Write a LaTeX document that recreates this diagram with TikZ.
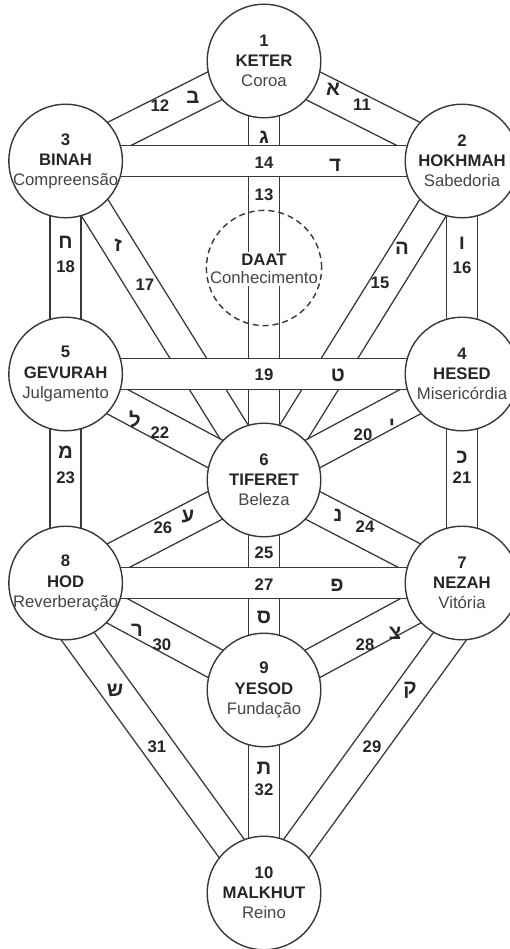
\documentclass[tikz,border=0pt]{standalone}
\usepackage{fontspec}
\setmainfont{Liberation Sans}
\newfontfamily\hebfont[Script=Hebrew]{Liberation Sans}
\usetikzlibrary{backgrounds,calc}
\definecolor{treeink}{HTML}{262626}
\definecolor{treegray}{HTML}{454545}
\definecolor{treeline}{HTML}{383838}

\begin{document}
\begin{tikzpicture}[
  font=\rmfamily,
  sephirah/.style={
    circle,
    draw=treeline,
    fill=white,
    line width=1.0pt,
    minimum size=2.84cm,
    inner sep=0pt
  },
  daatring/.style={
    circle,
    draw=treeline,
    line width=1.0pt,
    dash pattern=on 0.15cm off 0.1cm,
    minimum size=2.88cm,
    inner sep=0pt
  },
  sephtext/.style={
    align=center,
    text=treeink,
    font=\fontsize{11.9}{14.3}\selectfont,
    inner sep=0pt
  },
  channel/.style={
    draw=treeline,
    line width=1.0pt,
    double=white,
    double distance=0.74cm
  },
  pathnum/.style={
    font=\bfseries\fontsize{11.9}{13}\selectfont,
    text=treeink,
    inner sep=0pt
  },
  pathletter/.style={
    font=\hebfont\bfseries\fontsize{14.5}{15}\selectfont,
    text=treeink,
    inner sep=0pt
  }
]
\useasboundingbox (0,0) rectangle (12.725,-23.725);

\node[sephirah,label={[sephtext]center:{\textbf{1}\\\textbf{KETER}\\\color{treegray}Coroa}}] (keter) at (6.60,-1.525) {};
\node[sephirah,label={[sephtext]center:{\textbf{2}\\\textbf{HOKHMAH}\\\color{treegray}Sabedoria}}] (hokhmah) at (11.55,-4.025) {};
\node[sephirah,label={[sephtext]center:{\textbf{3}\\\textbf{BINAH}\\\color{treegray}Compreensão}}] (binah) at (1.64,-4.025) {};
\node[sephirah,label={[sephtext]center:{\textbf{4}\\\textbf{HESED}\\\color{treegray}Misericórdia}}] (hesed) at (11.55,-9.35) {};
\node[sephirah,label={[sephtext]center:{\textbf{5}\\\textbf{GEVURAH}\\\color{treegray}Julgamento}}] (gevurah) at (1.64,-9.35) {};
\node[sephirah,label={[sephtext]center:{\textbf{6}\\\textbf{TIFERET}\\\color{treegray}Beleza}}] (tiferet) at (6.60,-12.00) {};
\node[sephirah,label={[sephtext]center:{\textbf{7}\\\textbf{NEZAH}\\\color{treegray}Vitória}}] (nezah) at (11.55,-14.575) {};
\node[sephirah,label={[sephtext]center:{\textbf{8}\\\textbf{HOD}\\\color{treegray}Reverberação}}] (hod) at (1.64,-14.575) {};
\node[sephirah,label={[sephtext]center:{\textbf{9}\\\textbf{YESOD}\\\color{treegray}Fundação}}] (yesod) at (6.60,-17.25) {};
\node[sephirah,label={[sephtext]center:{\textbf{10}\\\textbf{MALKHUT}\\\color{treegray}Reino}}] (malkhut) at (6.60,-22.325) {};

\node[sephtext,fill=white,inner sep=1.5pt,font=\fontsize{11.9}{13.2}\selectfont] (daattext) at (6.60,-6.72)
  {\textbf{DAAT}\\\color{treegray}Conhecimento};
\node[daatring] (daat) at (6.60,-6.70) {};

\coordinate (hodout) at ($(hod.center)!0.46!(hod.west)$);
\coordinate (nezahout) at ($(nezah.center)!0.46!(nezah.east)$);

\begin{scope}[on background layer]
  \draw[channel] (keter.center) -- (hokhmah.center);
  \draw[channel] (keter.center) -- (binah.center);
  \draw[channel] (keter.center) -- (tiferet.center);
  \draw[channel] (hokhmah.center) -- (tiferet.center);
  \draw[channel] (hokhmah.center) -- (hesed.center);
  \draw[channel] (binah.center) -- (tiferet.center);
  \draw[channel] (binah.center) -- (gevurah.center);
  \draw[channel] (hesed.center) -- (tiferet.center);
  \draw[channel] (hesed.center) -- (nezah.center);
  \draw[channel] (gevurah.center) -- (tiferet.center);
  \draw[channel] (gevurah.center) -- (hod.center);
  \draw[channel] (tiferet.center) -- (nezah.center);
  \draw[channel] (tiferet.center) -- (yesod.center);
  \draw[channel] (tiferet.center) -- (hod.center);
  \draw[channel] (nezah.center) -- (yesod.center);
  \draw[channel] (nezahout) -- (malkhut.center);
  \draw[channel] (hod.center) -- (yesod.center);
  \draw[channel] (hodout) -- (malkhut.center);
  \draw[channel] (yesod.center) -- (malkhut.center);
  \draw[channel] (hokhmah.center) -- (binah.center);
  \draw[channel] (hesed.center) -- (gevurah.center);
  \draw[channel] (nezah.center) -- (hod.center);
\end{scope}

\node[pathletter] (let11) at (8.325,-2.225) {א};
\node[pathnum] (num11) at (9.05,-2.625) {11};
\node[pathletter] (let12) at (4.825,-2.425) {ב};
\node[pathnum] (num12) at (4.00,-2.65) {12};
\node[pathletter] (let13) at (6.60,-3.425) {ג};
\node[pathnum] (num13) at (6.60,-4.875) {13};
\node[pathletter] (let14) at (8.375,-4.125) {ד};
\node[pathnum] (num14) at (6.60,-4.075) {14};
\node[pathletter] (let15) at (10.05,-6.20) {ה};
\node[pathnum] (num15) at (9.50,-7.075) {15};
\node[pathletter] (let16) at (11.55,-6.075) {ו};
\node[pathnum] (num16) at (11.55,-6.70) {16};
\node[pathletter] (let17) at (2.95,-6.125) {ז};
\node[pathnum] (num17) at (3.625,-7.125) {17};
\node[pathletter] (let18) at (1.64,-6.05) {ח};
\node[pathnum] (num18) at (1.64,-6.675) {18};
\node[pathletter] (let19) at (8.45,-9.375) {ט};
\node[pathnum] (num19) at (6.60,-9.375) {19};
\node[pathletter] (let20) at (9.80,-10.625) {י};
\node[pathnum] (num20) at (9.075,-10.875) {20};
\node[pathletter] (let21) at (11.55,-11.425) {כ};
\node[pathnum] (num21) at (11.55,-11.95) {21};
\node[pathletter] (let22) at (3.375,-10.50) {ל};
\node[pathnum] (num22) at (4.00,-10.825) {22};
\node[pathletter] (let23) at (1.64,-11.30) {מ};
\node[pathnum] (num23) at (1.64,-11.95) {23};
\node[pathletter] (let24) at (8.45,-12.875) {נ};
\node[pathnum] (num24) at (9.125,-13.175) {24};
\node[pathletter] (let25) at (6.60,-15.425) {ס};
\node[pathnum] (num25) at (6.60,-13.825) {25};
\node[pathletter] (let26) at (4.70,-12.925) {ע};
\node[pathnum] (num26) at (4.075,-13.20) {26};
\node[pathletter] (let27) at (8.425,-14.625) {פ};
\node[pathnum] (num27) at (6.60,-14.625) {27};
\node[pathletter] (let28) at (9.875,-15.825) {צ};
\node[pathnum] (num28) at (9.125,-16.125) {28};
\node[pathletter] (let29) at (10.25,-17.25) {ק};
\node[pathnum] (num29) at (9.30,-18.675) {29};
\node[pathletter] (let30) at (3.425,-15.75) {ר};
\node[pathnum] (num30) at (4.05,-16.125) {30};
\node[pathletter] (let31) at (2.875,-17.25) {ש};
\node[pathnum] (num31) at (3.925,-18.675) {31};
\node[pathletter] (let32) at (6.60,-19.20) {ת};
\node[pathnum] (num32) at (6.60,-19.75) {32};

\end{tikzpicture}
\end{document}
